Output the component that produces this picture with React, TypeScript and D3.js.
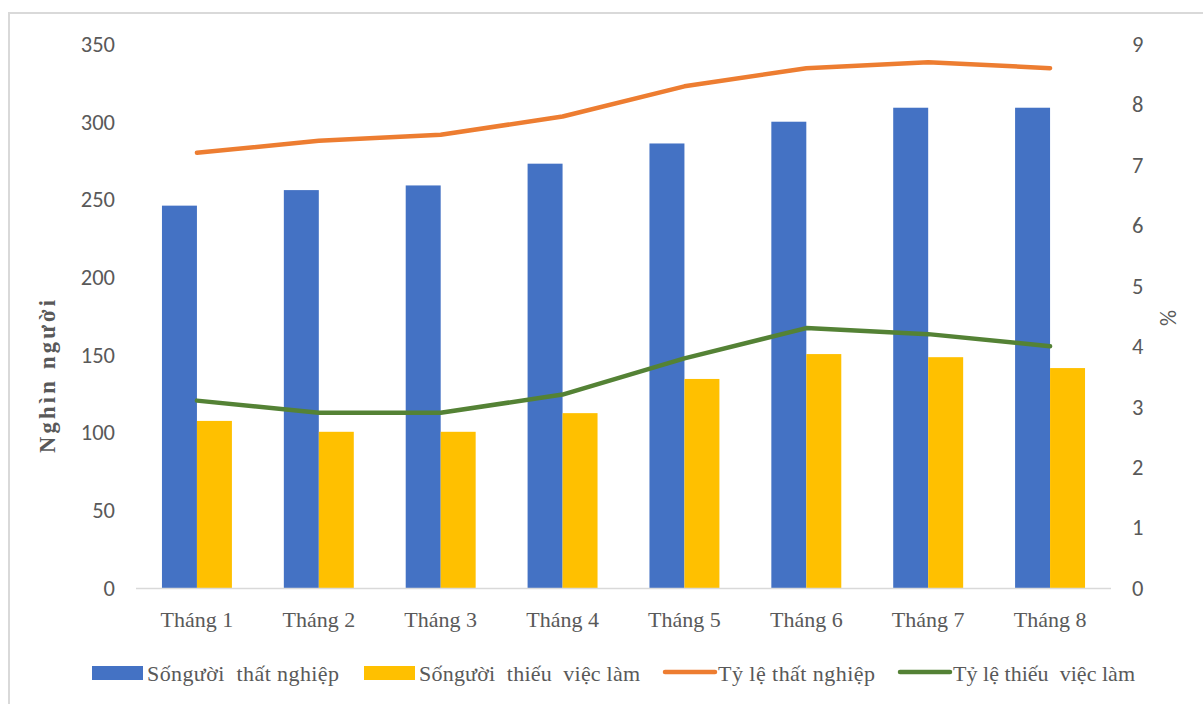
import React, { useEffect, useRef } from "react";
import * as d3 from "d3";

const MONTHS = ["Tháng 1", "Tháng 2", "Tháng 3", "Tháng 4", "Tháng 5", "Tháng 6", "Tháng 7", "Tháng 8"];
const UNEMPLOYED = [246, 256, 259, 273, 286, 300, 309, 309];
const UNDEREMPLOYED = [107.5, 100.5, 100.5, 112.5, 134.5, 150.5, 148.5, 141.5];
const UNEMP_RATE = [7.2, 7.4, 7.5, 7.8, 8.3, 8.6, 8.7, 8.6];
const UNDER_RATE = [3.1, 2.9, 2.9, 3.2, 3.8, 4.3, 4.2, 4.0];
const LEFT_TICKS = [0, 50, 100, 150, 200, 250, 300, 350];
const RIGHT_TICKS = [0, 1, 2, 3, 4, 5, 6, 7, 8, 9];

const LEGEND = [
  { label: "Sốngười  thất nghiệp", color: "#4472C4", kind: "bar" },
  { label: "Sốngười  thiếu  việc làm", color: "#FFC000", kind: "bar" },
  { label: "Tỷ lệ thất nghiệp", color: "#ED7D31", kind: "line" },
  { label: "Tỷ lệ thiếu  việc làm", color: "#548235", kind: "line" },
];

export default function App() {
  const svgRef = useRef<SVGSVGElement>(null);

  useEffect(() => {
    document.body.style.margin = "0";
    const svg = d3.select(svgRef.current);
    svg.selectAll("*").remove();

    const top = 44, bottom = 588;
    const grey = "#595959";
    const sans = "Carlito, Calibri, 'Open Sans', sans-serif";
    const serif = "'Liberation Serif', 'Times New Roman', serif";

    // frame
    svg.append("rect")
      .attr("x", 9).attr("y", 13)
      .attr("width", 1200).attr("height", 700)
      .attr("fill", "#fff").attr("stroke", "#d9d9d9").attr("stroke-width", 2);

    const x = d3.scaleBand().domain(MONTHS).range([136, 1111]).paddingInner(0.426).paddingOuter(0.213);
    const sub = d3.scaleBand().domain(["a", "b"]).range([0, x.bandwidth()]);
    const cx = (d: string) => x(d)! + x.bandwidth() / 2;
    const yLeft = d3.scaleLinear().domain([0, 350]).range([bottom, top]);
    const yRight = d3.scaleLinear().domain([0, 9]).range([bottom, top]);

    // left axis labels
    svg.append("g").selectAll("text").data(LEFT_TICKS).enter().append("text")
      .attr("x", 115).attr("y", d => yLeft(d)).attr("dy", "0.35em")
      .attr("text-anchor", "end").attr("fill", grey)
      .attr("font-family", sans).attr("font-size", "22.5px")
      .text(d => d);

    // right axis labels
    svg.append("g").selectAll("text").data(RIGHT_TICKS).enter().append("text")
      .attr("x", 1132).attr("y", d => yRight(d)).attr("dy", "0.35em")
      .attr("fill", grey)
      .attr("font-family", sans).attr("font-size", "22.5px")
      .text(d => d);

    // axis titles
    svg.append("text")
      .attr("transform", "translate(55,376.5) rotate(-90)")
      .attr("text-anchor", "middle").attr("fill", grey)
      .attr("font-family", serif).attr("font-weight", "bold").attr("font-size", "22.5px")
      .attr("textLength", 153).attr("lengthAdjust", "spacing")
      .text("Nghìn người");

    svg.append("text")
      .attr("transform", "translate(1168,318) rotate(-90)")
      .attr("text-anchor", "middle").attr("dy", "0.35em").attr("fill", grey)
      .attr("font-family", sans).attr("font-size", "22.5px")
      .text("%");

    // bars
    const groups = svg.append("g").selectAll("g").data(MONTHS).enter().append("g")
      .attr("transform", d => `translate(${x(d)},0)`);

    groups.append("rect")
      .attr("x", sub("a")!).attr("width", sub.bandwidth())
      .attr("y", (d, i) => yLeft(UNEMPLOYED[i]))
      .attr("height", (d, i) => bottom - yLeft(UNEMPLOYED[i]))
      .attr("fill", "#4472C4");

    groups.append("rect")
      .attr("x", sub("b")!).attr("width", sub.bandwidth())
      .attr("y", (d, i) => yLeft(UNDEREMPLOYED[i]))
      .attr("height", (d, i) => bottom - yLeft(UNDEREMPLOYED[i]))
      .attr("fill", "#FFC000");

    // baseline
    svg.append("line")
      .attr("x1", 136).attr("x2", 1111).attr("y1", bottom + 0.5).attr("y2", bottom + 0.5)
      .attr("stroke", "#d9d9d9").attr("stroke-width", 1.5);

    // category labels
    svg.append("g").selectAll("text").data(MONTHS).enter().append("text")
      .attr("x", cx).attr("y", 627)
      .attr("text-anchor", "middle").attr("fill", grey)
      .attr("font-family", serif).attr("font-size", "22px")
      .text(d => d);

    // lines
    const line = (vals: number[]) => d3.line<string>()
      .x(d => cx(d))
      .y((d, i) => yRight(vals[i]));

    svg.append("path").datum(MONTHS).attr("d", line(UNEMP_RATE))
      .attr("fill", "none").attr("stroke", "#ED7D31").attr("stroke-width", 4.5)
      .attr("stroke-linejoin", "round").attr("stroke-linecap", "round");

    svg.append("path").datum(MONTHS).attr("d", line(UNDER_RATE))
      .attr("fill", "none").attr("stroke", "#548235").attr("stroke-width", 4.5)
      .attr("stroke-linejoin", "round").attr("stroke-linecap", "round");

    // legend
    const legendX = [92, 364, 663, 898];
    const legendLen = [192, 221, 157, 182];
    const lg = svg.append("g").selectAll("g").data(LEGEND).enter().append("g")
      .attr("transform", (d, i) => `translate(${legendX[i]},673)`);

    lg.filter(d => d.kind === "bar").append("rect")
      .attr("x", 0).attr("y", -7).attr("width", 51).attr("height", 14)
      .attr("fill", d => d.color);

    lg.filter(d => d.kind === "line").append("line")
      .attr("x1", 2).attr("x2", 52).attr("y1", -1).attr("y2", -1)
      .attr("stroke", d => d.color).attr("stroke-width", 4.5).attr("stroke-linecap", "round");

    lg.append("text")
      .attr("x", d => d.kind === "bar" ? 55 : 55).attr("y", 0).attr("dy", "0.35em")
      .attr("fill", grey).style("white-space", "pre")
      .attr("font-family", serif).attr("font-size", "22px")
      .attr("textLength", (d, i) => legendLen[i]).attr("lengthAdjust", "spacing")
      .text(d => d.label);
  }, []);

  return <svg ref={svgRef} width={1203} height={704} style={{ display: "block" }} />;
}
